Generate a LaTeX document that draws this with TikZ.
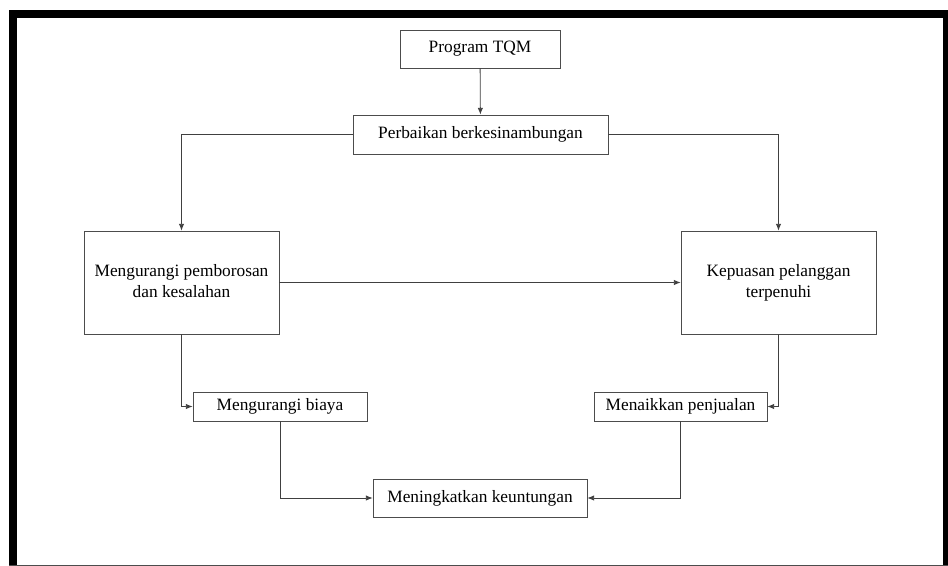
\documentclass[tikz,border=0pt]{standalone}
\usepackage{fontspec}
\setmainfont{Liberation Serif}
\usepackage{tikz}
\usetikzlibrary{arrows.meta,positioning}

\tikzset{
  box/.style={rectangle, draw=black!70, line width=0.6pt, inner sep=0pt,
              font=\fontsize{13}{15.75}\selectfont},
  flow/.style={draw=black!75, line width=0.6pt, -{Latex[length=5pt,width=4pt]}}
}

\begin{document}
\begin{tikzpicture}[x=0.75pt,y=-0.75pt]
        \useasboundingbox (0,0) rectangle (948,566);
        % frame
        \fill[white] (0,0) rectangle (948,566);
        \fill[black] (9,10) rectangle (948,18);
        \fill[black] (9,10) rectangle (17,566);
        \fill[black] (943,10) rectangle (948,566);
        \draw[black!70, line width=0.8pt] (9,565.5) -- (948,565.5);

        \node[box, minimum width=120pt, minimum height=28.5pt] (tqm) at (480,49) {Program TQM};
        \node[box, minimum width=191.25pt, minimum height=29.25pt] (perb) at (480.5,134.5) {Perbaikan berkesinambungan};
        \node[box, minimum width=146.25pt, minimum height=77.25pt] (kurang) at (181.5,282.5) {
                                                           \begin{tabular}{c}
                                                            Mengurangi pemborosan \\
                                                            dan kesalahan
                                                           \end{tabular}
                                                          };
        \node[box, minimum width=146.25pt, minimum height=77.25pt] (puas) at (778.5,282.5) {
                                                           \begin{tabular}{c}
                                                            Kepuasan pelanggan \\
                                                            terpenuhi
                                                           \end{tabular}
                                                          };
        \node[box, minimum width=130.5pt, minimum height=21.75pt] (biaya) at (280,406.5) {Mengurangi biaya};
        \node[box, minimum width=129.75pt, minimum height=21.75pt] (jual) at (680.5,406.5) {Menaikkan penjualan};
        \node[box, minimum width=160.5pt, minimum height=28.5pt] (untung) at (480,498) {Meningkatkan keuntungan};

        \draw[flow] (tqm) -- (perb);
        \draw[flow] (perb.west) -| (kurang.north);
        \draw[flow] (perb.east) -| (puas.north);
        \draw[flow] (kurang) -- (puas);
        \draw[flow] (kurang.south) |- (biaya.west);
        \draw[flow] (puas.south) |- (jual.east);
        \draw[flow] (biaya.south) |- (untung.west);
        \draw[flow] (jual.south) |- (untung.east);
      \end{tikzpicture}
\end{document}
